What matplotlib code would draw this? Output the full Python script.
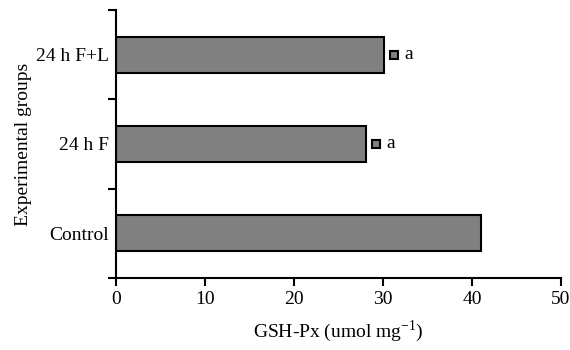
import matplotlib
matplotlib.use("Agg")
import matplotlib.pyplot as plt

categories = ["Control", "24 h F", "24 h F+L"]
values = [41.0, 28.1, 30.1]
marker_x = [None, 29.2, 31.2]
sig_labels = ["", "a", "a"]
xticks = [0, 10, 20, 30, 40, 50]

plt.rcParams['font.family'] = ['Liberation Serif', 'DejaVu Serif']
plt.rcParams['mathtext.fontset'] = 'custom'
plt.rcParams['mathtext.rm'] = 'Liberation Serif'

fig = plt.figure(figsize=(5.7, 3.5), dpi=100)
ax = fig.add_axes([116/570, 1-278/350, (561-116)/570, (278-10)/350])

pos = [0.5, 1.5, 2.5]
ax.barh(pos, values, height=0.4, color='#808080', edgecolor='black', linewidth=1.5)

for p, mx, lab in zip(pos, marker_x, sig_labels):
    if mx is not None:
        ax.plot([mx], [p], marker='s', markersize=6, markerfacecolor='#808080',
                markeredgecolor='black', markeredgewidth=1.5, linestyle='none', clip_on=False)
        ax.text(mx + 1.2, p, lab, ha='left', va='center', fontsize=14)

ax.set_xlim(0, 50)
ax.set_ylim(0, 3)
ax.set_xticks(xticks)
ax.set_xticklabels([str(t) for t in xticks], fontsize=14)
ax.set_yticks([0, 1, 2, 3])
ax.set_yticklabels([])
ax.set_yticks(pos, minor=True)
ax.set_yticklabels(categories, minor=True, fontsize=14)
ax.tick_params(axis='y', which='minor', length=0, pad=5)
ax.tick_params(axis='y', which='major', length=6, width=1.5, direction='out')
ax.tick_params(axis='x', length=6, width=1.5, direction='out', pad=3)

for s in ['top', 'right']:
    ax.spines[s].set_visible(False)
for s in ['left', 'bottom']:
    ax.spines[s].set_linewidth(1.5)

ax.set_xlabel("GSH-Px (umol mg$^{\\mathregular{-1}}$)", fontsize=14, labelpad=8)
ax.set_ylabel("Experimental groups", fontsize=14, labelpad=3)

fig.savefig("out.png", dpi=100)
